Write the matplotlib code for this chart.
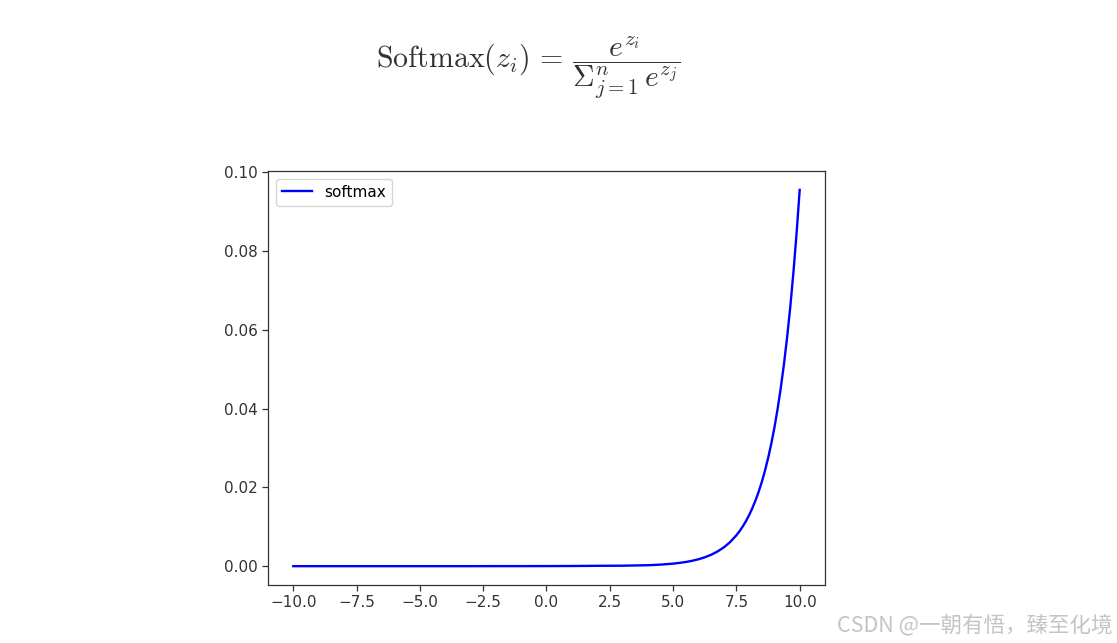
import numpy as np
import matplotlib.pyplot as plt

# x positions and softmax values
x_vals = [-10.0, -9.0, -8.0, -7.0, -6.0, -5.0, -4.0, -3.0, -2.0, -1.0, 0.0,
          1.0, 2.0, 3.0, 4.0, 4.5, 5.0, 5.25, 5.5, 5.75, 6.0, 6.25, 6.5, 6.75,
          7.0, 7.25, 7.5, 7.625, 7.75, 7.875, 8.0, 8.125, 8.25, 8.375, 8.5,
          8.625, 8.75, 8.875, 9.0, 9.125, 9.25, 9.375, 9.5, 9.625, 9.75,
          9.875, 10.0]
y_vals = [0.0, 0.0, 0.0, 0.0, 0.0, 0.0, 0.0, 0.0, 0.00001, 0.00001, 0.00002,
          0.00004, 0.00009, 0.00012, 0.00024, 0.00039, 0.00064, 0.00083, 0.00106,
          0.00136, 0.00175, 0.00225, 0.00288, 0.00371, 0.00475, 0.0061, 0.00784,
          0.00888, 0.01007, 0.0114, 0.01292, 0.01465, 0.0166, 0.0188, 0.0213,
          0.02414, 0.02736, 0.0310, 0.0351, 0.0398, 0.0451, 0.0511, 0.0579,
          0.0656, 0.0744, 0.0843, 0.0955]

y_ticks = [0.00, 0.02, 0.04, 0.06, 0.08, 0.10]
x_ticks = [-10.0, -7.5, -5.0, -2.5, 0.0, 2.5, 5.0, 7.5, 10.0]

plt.rcParams['mathtext.fontset'] = 'cm'

fig = plt.figure(figsize=(11.17, 6.43), dpi=100)
ax = fig.add_axes([0.2399, 0.0902, 0.4987, 0.6439])
ax.plot(x_vals, y_vals, color='blue', linewidth=1.7, label='softmax')
ax.set_xticks(x_ticks)
ax.set_yticks(y_ticks)
ax.set_xticklabels([f"{v:.1f}".replace('-', '\u2212') for v in x_ticks])
ax.set_yticklabels([f"{v:.2f}" for v in y_ticks])
ax.set_xlim(-11.0, 11.0)
ax.set_ylim(-0.00478, 0.1003)
ax.tick_params(labelsize=11, length=4, width=0.9, colors='#333333')
for s in ax.spines.values():
    s.set_color('#333333')
    s.set_linewidth(0.9)
ax.legend(loc='upper left', fontsize=11, handlelength=2.0)

fig.text(0.473, 0.895, r'$\mathrm{Softmax}(z_i)\,=\,\dfrac{e^{z_i}}{{\Sigma}_{j=1}^{n}\,e^{z_j}}$',
         fontsize=21.5, color='#333333', ha='center', va='center')

fig.text(0.996, 0.010, 'CSDN @一朝有悟，臻至化境', fontsize=15.5, color='#c4c4c4',
         ha='right', va='bottom', family=['Noto Sans CJK SC', 'DejaVu Sans'])

fig.savefig('out.png', dpi=100)
